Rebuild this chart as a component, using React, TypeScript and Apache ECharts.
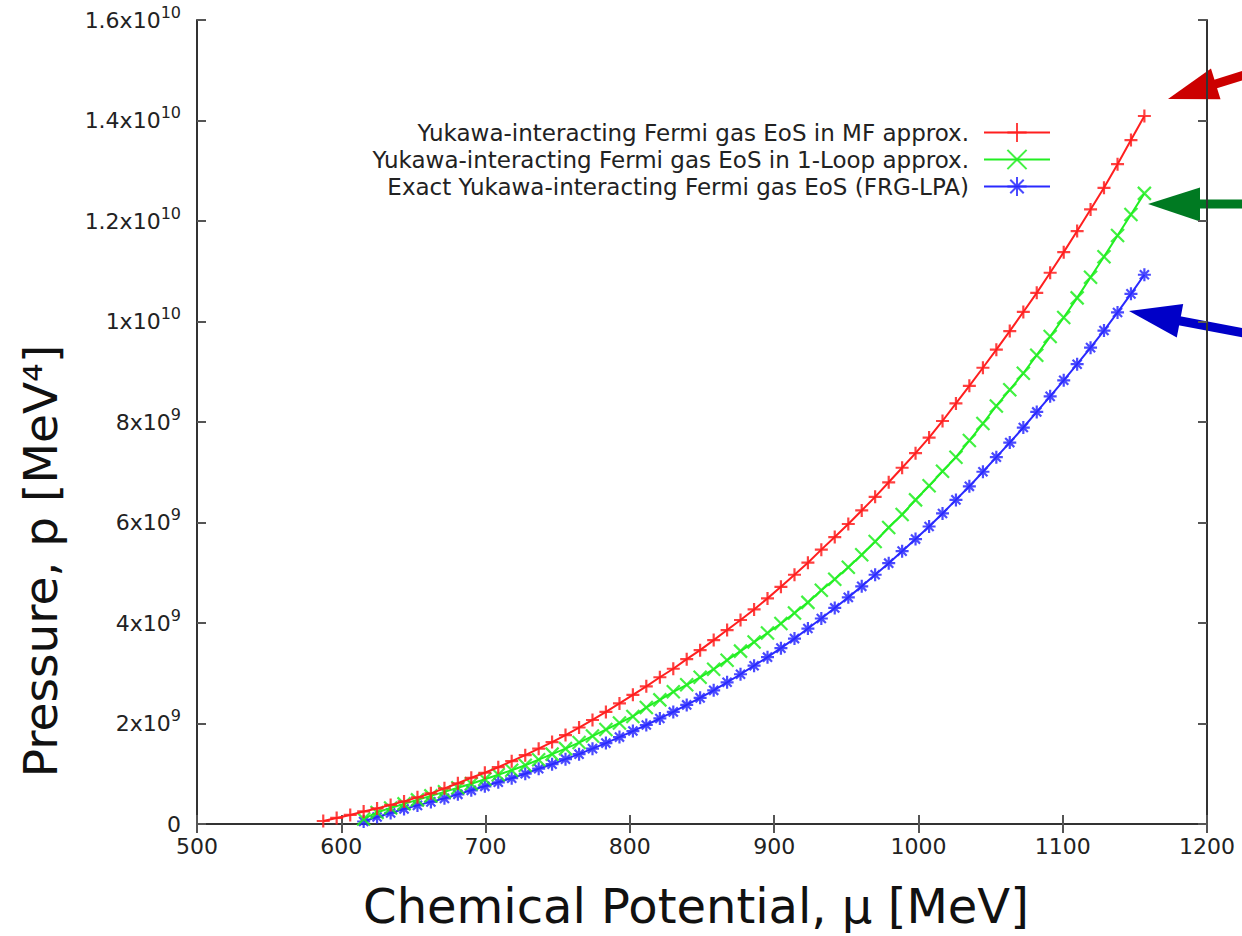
import React, { useEffect, useRef } from "react";
import * as echarts from "echarts";

// Chemical potential grid (MeV), shared by all three curves
const mu = [
  587.5, 596.8, 606.2, 615.5, 624.8, 634.2, 643.5, 652.8, 662.1, 671.5,
  680.8, 690.1, 699.5, 708.8, 718.1, 727.5, 736.8, 746.1, 755.4, 764.8,
  774.1, 783.4, 792.8, 802.1, 811.4, 820.8, 830.1, 839.4, 848.7, 858.1,
  867.4, 876.7, 886.1, 895.4, 904.7, 914.1, 923.4, 932.7, 942.0, 951.4,
  960.7, 970.0, 979.4, 988.7, 998.0, 1007.4, 1016.7, 1026.0, 1035.3, 1044.7,
  1054.0, 1063.3, 1072.7, 1082.0, 1091.3, 1100.7, 1110.0, 1119.3, 1128.6, 1138.0,
  1147.3, 1156.6,
];

// Pressure in units of 1e9 MeV^4
const pressureMF = [
  0.06, 0.12, 0.18, 0.25, 0.31, 0.38, 0.45, 0.53, 0.61, 0.71,
  0.81, 0.92, 1.02, 1.13, 1.25, 1.37, 1.50, 1.63, 1.77, 1.92,
  2.07, 2.23, 2.40, 2.57, 2.74, 2.92, 3.09, 3.28, 3.46, 3.66,
  3.86, 4.06, 4.27, 4.49, 4.72, 4.96, 5.20, 5.46, 5.71, 5.97,
  6.24, 6.51, 6.80, 7.09, 7.38, 7.69, 8.02, 8.37, 8.72, 9.08,
  9.44, 9.81, 10.19, 10.57, 10.97, 11.38, 11.80, 12.23, 12.66, 13.13,
  13.61, 14.09,
];

const pressure1Loop = [
  null, null, null, 0.10, 0.23, 0.32, 0.40, 0.48, 0.56, 0.64,
  0.72, 0.80, 0.89, 0.98, 1.07, 1.17, 1.28, 1.39, 1.50, 1.62,
  1.75, 1.88, 2.01, 2.14, 2.32, 2.47, 2.63, 2.77, 2.92, 3.08,
  3.26, 3.44, 3.62, 3.80, 3.99, 4.20, 4.41, 4.65, 4.87, 5.11,
  5.36, 5.62, 5.90, 6.16, 6.45, 6.73, 7.02, 7.30, 7.63, 7.97,
  8.32, 8.64, 8.97, 9.33, 9.70, 10.08, 10.47, 10.88, 11.29, 11.71,
  12.13, 12.55,
];

const pressureFRG = [
  null, null, null, 0.05, 0.14, 0.22, 0.30, 0.37, 0.44, 0.51,
  0.59, 0.67, 0.75, 0.83, 0.91, 1.00, 1.10, 1.19, 1.29, 1.39,
  1.50, 1.61, 1.73, 1.85, 1.97, 2.10, 2.23, 2.37, 2.51, 2.66,
  2.82, 2.98, 3.15, 3.32, 3.50, 3.69, 3.89, 4.09, 4.30, 4.51,
  4.73, 4.96, 5.19, 5.43, 5.67, 5.92, 6.18, 6.45, 6.72, 7.01,
  7.30, 7.59, 7.89, 8.20, 8.51, 8.83, 9.15, 9.48, 9.82, 10.18,
  10.55, 10.93,
];

const seriesNames = [
  "Yukawa-interacting Fermi gas EoS in MF approx.",
  "Yukawa-interacting Fermi gas EoS in 1-Loop approx.",
  "Exact Yukawa-interacting Fermi gas EoS (FRG-LPA)",
];

const xTitle = "Chemical Potential, μ [MeV]";
const yTitle = "Pressure, p [MeV⁴]";

const yTickBase = ["0", "2x10", "4x10", "6x10", "8x10", "1x10", "1.2x10", "1.4x10", "1.6x10"];
const yTickExp = ["", "9", "9", "9", "9", "10", "10", "10", "10"];

const FONT = "'DejaVu Sans', sans-serif";
const COLORS = ["#ff1f1f", "#22ee22", "#2a2aff"];

const SYM_PLUS = "path://M0,5L10,5M5,0L5,10";
const SYM_CROSS = "path://M0,0L10,10M10,0L0,10";
const SYM_STAR = "path://M0,5L10,5M5,0L5,10M1.5,1.5L8.5,8.5M8.5,1.5L1.5,8.5";

function pairs(values: (number | null)[]) {
  const out: number[][] = [];
  values.forEach((v, i) => {
    if (v !== null) out.push([mu[i], v]);
  });
  return out;
}

export default function App() {
  const ref = useRef<HTMLDivElement>(null);

  useEffect(() => {
    if (!ref.current) return;
    const chart = echarts.init(ref.current, undefined, { renderer: "svg" });

    const axisLine = { show: true, lineStyle: { color: "#333", width: 2 } };
    const axisTick = { show: true, inside: true, length: 9, lineStyle: { color: "#555", width: 2 } };

    const symbols = [SYM_PLUS, SYM_CROSS, SYM_STAR];
    const datas = [pressureMF, pressure1Loop, pressureFRG];

    const series = seriesNames.map((name, i) => ({
      name,
      type: "line",
      data: pairs(datas[i]),
      xAxisIndex: 0,
      yAxisIndex: 0,
      color: COLORS[i],
      symbol: symbols[i],
      symbolSize: 13,
      showSymbol: true,
      showAllSymbol: true,
      lineStyle: { color: COLORS[i], width: 2 },
      itemStyle: { color: COLORS[i], borderColor: COLORS[i], borderWidth: 2.2, opacity: 0.85 },
      z: 3 - i + 2,
    }));

    const legendTops = [121, 148, 175];
    const legend = seriesNames.map((name, i) => ({
      data: [name],
      right: 191,
      top: legendTops[i],
      align: "right",
      orient: "vertical",
      padding: 0,
      itemWidth: 66,
      itemHeight: 24,
      selectedMode: false,
      textStyle: {
        fontFamily: FONT,
        fontSize: 23,
        color: "#222",
        padding: [0, 10, 0, 0],
      },
    }));

    const arrowHead = (pts: number[][], color: string) => ({
      type: "polygon",
      shape: { points: pts },
      style: { fill: color },
    });
    const arrowShaft = (x1: number, y1: number, x2: number, y2: number, color: string) => ({
      type: "line",
      shape: { x1, y1, x2, y2 },
      style: { stroke: color, lineWidth: 9 },
    });

    chart.setOption({
      animation: false,
      backgroundColor: "#ffffff",
      grid: {
        left: 197,
        top: 20,
        right: 35,
        bottom: 112,
        containLabel: false,
        outerBoundsMode: "none",
      },
      legend,
      xAxis: [
        {
          type: "value",
          min: 500,
          max: 1200,
          interval: 100,
          position: "bottom",
          axisLine,
          axisTick,
          splitLine: { show: false },
          axisLabel: {
            fontFamily: FONT,
            fontSize: 22,
            color: "#222",
            margin: 11,
            formatter: (v: number) => String(v),
          },
          name: xTitle,
          nameLocation: "middle",
          nameGap: 58,
          nameTextStyle: { fontFamily: FONT, fontSize: 48, color: "#111", padding: [0, 12, 0, 0] },
        },
        {
          type: "value",
          min: 500,
          max: 1200,
          interval: 100,
          position: "top",
          axisLine,
          axisTick,
          splitLine: { show: false },
          axisLabel: { show: false },
        },
      ],
      yAxis: [
        {
          type: "value",
          min: 0,
          max: 16,
          interval: 2,
          position: "left",
          axisLine,
          axisTick,
          splitLine: { show: false },
          axisLabel: {
            margin: 16,
            fontFamily: FONT,
            fontSize: 22,
            color: "#222",
            formatter: (v: number) => {
              const idx = Math.round(v / 2);
              const e = yTickExp[idx];
              return e ? `{m|${yTickBase[idx]}}{e|${e}}` : `{m|${yTickBase[idx]}}`;
            },
            rich: {
              m: { fontFamily: FONT, fontSize: 22, color: "#222", lineHeight: 26 },
              e: { fontFamily: FONT, fontSize: 16, color: "#222", lineHeight: 26, padding: [0, 0, 16, 0] },
            },
          },
        },
        {
          type: "value",
          min: 0,
          max: 16,
          interval: 2,
          position: "right",
          axisLine,
          axisTick,
          splitLine: { show: false },
          axisLabel: { show: false },
        },
      ],
      series,
      graphic: [
        {
          type: "text",
          x: 40,
          y: 561,
          rotation: Math.PI / 2,
          style: {
            text: yTitle,
            fontFamily: FONT,
            fontSize: 47,
            fill: "#111",
            align: "center",
            verticalAlign: "middle",
          },
        },
        arrowShaft(1214, 84.5, 1260, 70, "#cc0000"),
        arrowHead([[1168, 99], [1211, 68.5], [1220.5, 99.2]], "#cc0000"),
        arrowShaft(1196, 204, 1260, 204, "#007a22"),
        arrowHead([[1148, 204], [1200, 187.5], [1200, 221.5]], "#007a22"),
        arrowShaft(1178, 320.5, 1260, 336, "#0000c8"),
        arrowHead([[1129, 311], [1183.2, 304], [1176.8, 337.4]], "#0000c8"),
      ],
    });

    return () => chart.dispose();
  }, []);

  return (
    <div
      ref={ref}
      style={{ position: "fixed", left: 0, top: 0, width: 1242, height: 936, background: "#fff" }}
    />
  );
}
